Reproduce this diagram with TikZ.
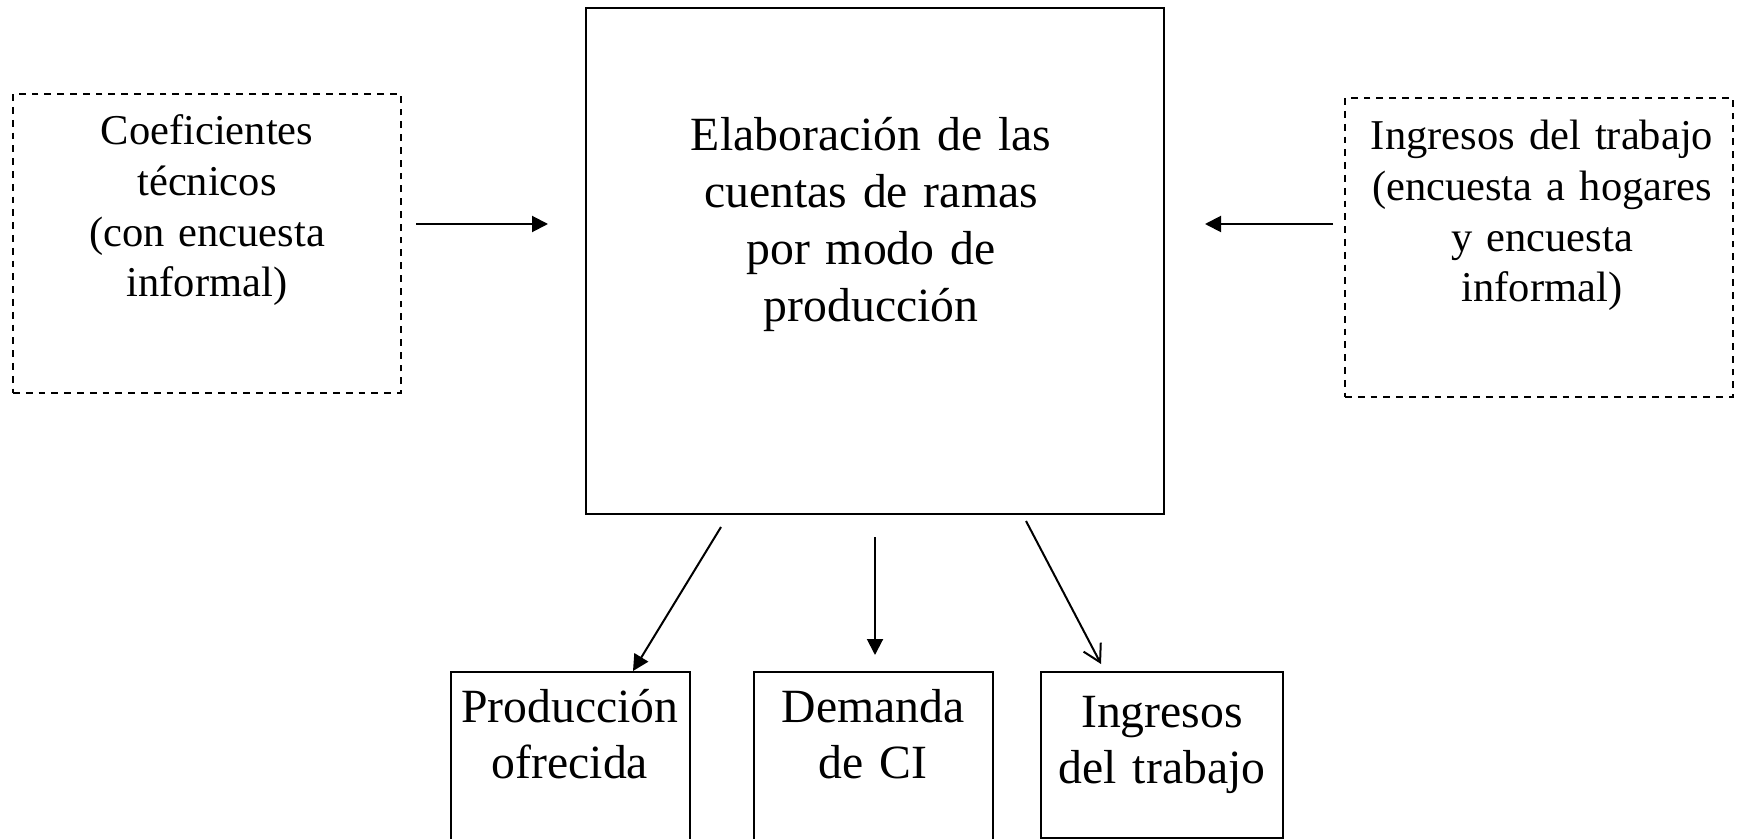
\documentclass[tikz,border=0pt]{standalone}
\usepackage{fontspec}
\setmainfont{Liberation Serif}
\usetikzlibrary{arrows.meta}
\begin{document}
\begin{tikzpicture}[x=0.5pt,y=-0.5pt,
  solidbox/.style={draw,line width=1pt,inner sep=0pt},
  dashbox/.style={draw,line width=0.8pt,dash pattern=on 3.4pt off 3pt,inner sep=0pt},
  smalltxt/.style={font=\fontsize{21.25pt}{25.3pt}\selectfont,text width=190pt,align=center,anchor=base,inner sep=0pt},
  bigtxt/.style={font=\fontsize{23.85pt}{28.5pt}\selectfont,text width=260pt,align=center,anchor=base,inner sep=0pt},
  bottxt/.style={font=\fontsize{23.85pt}{28pt}\selectfont,text width=125pt,align=center,anchor=base,inner sep=0pt},
  filledarrow/.style={line width=1pt,-{Triangle[length=8pt,width=8pt]}},
  openarrow/.style={line width=1pt,-{Straight Barb[length=8.5pt,width=9.7pt]}}]
\useasboundingbox (0,0) rectangle (1739,839);
\clip (0,0) rectangle (1739,839);
% boxes
\node[dashbox,minimum width=194pt,minimum height=149.5pt] (coef) at (207,243.5) {};
\node[solidbox,minimum width=289pt,minimum height=253pt] (main) at (875,261) {};
\node[dashbox,minimum width=194pt,minimum height=149.5pt] (ingin) at (1539,247.5) {};
\node[solidbox,minimum width=119.5pt,minimum height=114pt] (prod) at (570.5,786) {};
\node[solidbox,minimum width=119.5pt,minimum height=114pt] (dem) at (873.5,786) {};
\node[solidbox,minimum width=121pt,minimum height=83pt] (ingout) at (1162,755) {};
% texts
\node[smalltxt] (coeft) at (207,145) {Coeficientes\\técnicos\\(con encuesta\\informal)};
\node[smalltxt] (ingint) at (1542,150) {Ingresos del trabajo\\(encuesta a hogares\\y encuesta\\informal)};
\node[bigtxt] (maint) at (871,151) {Elaboración de las\\cuentas de ramas\\por modo de\\producción};
\node[bottxt] (prodt) at (570,722) {Producción\\ofrecida};
\node[bottxt] (demt) at (873,722) {Demanda\\de CI};
\node[bottxt] (ingoutt) at (1162,727) {Ingresos\\del trabajo};
% arrow ends
\coordinate (a1s) at (416,224); \coordinate (a1e) at (548,224);
\coordinate (a2s) at (1333,224); \coordinate (a2e) at (1205,224);
\coordinate (a3s) at (721,527); \coordinate (a3e) at (633,671);
\coordinate (a4s) at (875,537); \coordinate (a4e) at (875,655);
\coordinate (a5s) at (1026,521); \coordinate (a5e) at (1101,664);
\draw[filledarrow] (a1s) -- (a1e);
\draw[filledarrow] (a2s) -- (a2e);
\draw[filledarrow] (a3s) -- (a3e);
\draw[filledarrow] (a4s) -- (a4e);
\draw[openarrow] (a5s) -- (a5e);
\end{tikzpicture}
\end{document}
